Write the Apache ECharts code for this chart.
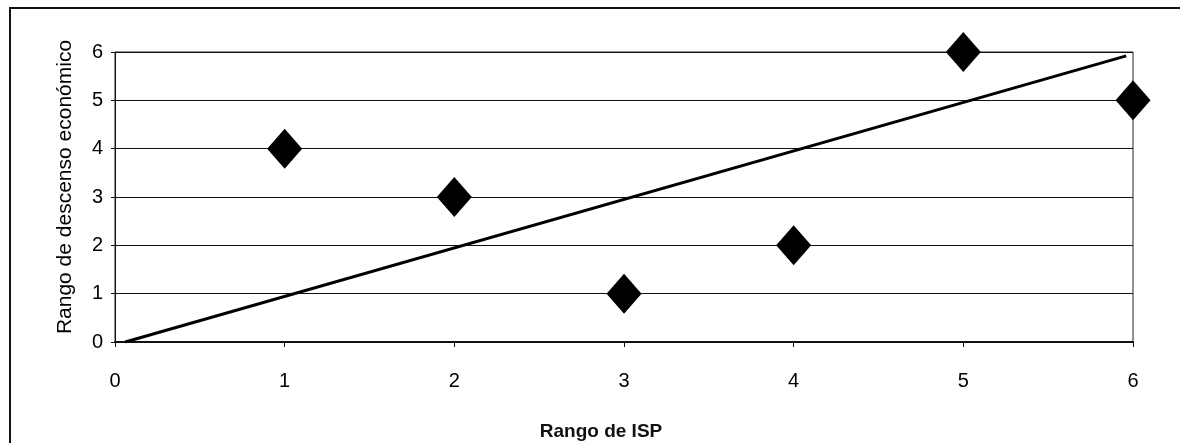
<!DOCTYPE html>
<html>
<head>
<meta charset="utf-8">
<script src="https://cdn.jsdelivr.net/npm/echarts@6/dist/echarts.min.js"></script>
<style>
  html, body { margin: 0; padding: 0; background: #fff; }
  #chart { width: 1180px; height: 443px; }
</style>
</head>
<body>
<div id="chart"></div>
<script>
// Ranks: ISP rank (x) vs economic decline rank (y)
const ispRank = [1, 2, 3, 4, 5, 6];
const declineRank = [4, 3, 1, 2, 6, 5];
// Reference line endpoints [x, y]
const lineStart = [0.06, 0];
const lineEnd = [5.96, 5.92];
const xTicks = [0, 1, 2, 3, 4, 5, 6];
const yTicks = [0, 1, 2, 3, 4, 5, 6];
const xTitle = 'Rango de ISP';
const yTitle = 'Rango de descenso económico';

const font = '"Liberation Sans", Arial, sans-serif';
const chart = echarts.init(document.getElementById('chart'), null, { renderer: 'canvas' });

chart.setOption({
  animation: false,
  backgroundColor: '#fff',
  grid: {
    left: 115, right: 47, top: 52, bottom: 101,
    show: true, borderColor: '#222', borderWidth: 1, backgroundColor: 'transparent'
  },
  xAxis: {
    type: 'value',
    min: xTicks[0], max: xTicks[xTicks.length - 1], interval: 1,
    axisLine: { show: true, lineStyle: { color: '#111', width: 2 } },
    axisTick: { show: true, inside: false, length: 5, lineStyle: { color: '#111' } },
    axisLabel: { color: '#000', fontSize: 20, fontFamily: font, margin: 29 },
    splitLine: { show: false }
  },
  yAxis: {
    type: 'value',
    min: yTicks[0], max: yTicks[yTicks.length - 1], interval: 1,
    axisLine: { show: true, lineStyle: { color: '#111', width: 1 } },
    axisTick: { show: true, length: 4, lineStyle: { color: '#111' } },
    axisLabel: { color: '#000', fontSize: 20, fontFamily: font, margin: 12 },
    splitLine: { show: true, lineStyle: { color: '#111', width: 1 } }
  },
  graphic: [
    {
      type: 'rect', silent: true, z: 100,
      shape: { x: 10, y: 8, width: 1190, height: 460 },
      style: { fill: 'none', stroke: '#111', lineWidth: 2 }
    },
    {
      type: 'text', x: 601, y: 432, z: 100,
      style: { text: xTitle, font: 'bold 19px ' + font, fill: '#111', align: 'center', verticalAlign: 'middle' }
    },
    {
      type: 'text', x: 65, y: 187, rotation: Math.PI / 2, z: 100,
      style: { text: yTitle, font: '21px ' + font, fill: '#000', align: 'center', verticalAlign: 'middle' }
    }
  ],
  series: [
    {
      type: 'line',
      data: [lineStart, lineEnd],
      symbol: 'none',
      lineStyle: { color: '#000', width: 3 },
      z: 2
    },
    {
      type: 'scatter',
      data: ispRank.map((x, i) => [x, declineRank[i]]),
      symbol: 'diamond',
      symbolSize: [35, 40],
      itemStyle: { color: '#000', opacity: 1 },
      z: 3
    }
  ]
});
</script>
</body>
</html>
